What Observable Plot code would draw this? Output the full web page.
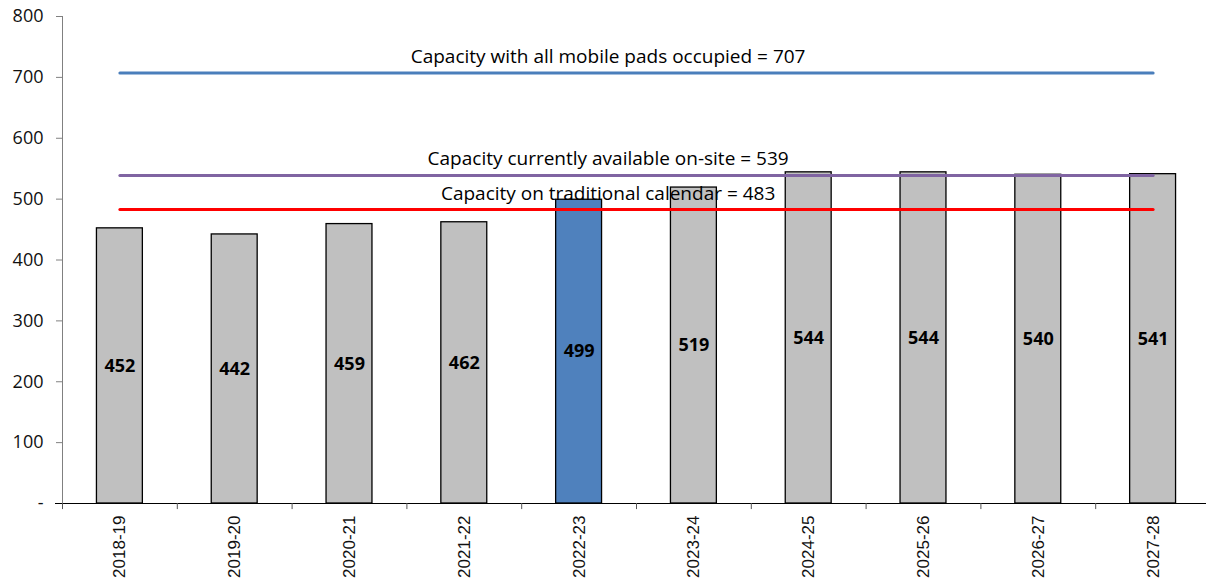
<!DOCTYPE html>
<html>
<head>
<meta charset="utf-8">
<script src="https://cdn.jsdelivr.net/npm/d3@7"></script>
<script src="https://cdn.jsdelivr.net/npm/@observablehq/plot@0.6"></script>
<style>
  html, body { margin: 0; padding: 0; background: #fff; }
  #chart { width: 1206px; height: 584px; overflow: hidden; }
</style>
</head>
<body>
<div id="chart"></div>
<script>
const years = ["2018-19","2019-20","2020-21","2021-22","2022-23","2023-24","2024-25","2025-26","2026-27","2027-28"];
const enrollment = [452, 442, 459, 462, 499, 519, 544, 544, 540, 541];
const highlightYear = "2022-23";
const yTicks = [0, 100, 200, 300, 400, 500, 600, 700, 800];

const capacityLabels = [
  "Capacity with all mobile pads occupied = 707",
  "Capacity currently available on-site = 539",
  "Capacity on traditional calendar = 483"
];
const capacityValues = [707, 539, 483];
const capacityColors = ["#4a7ebb", "#8064a2", "#ff0000"];

const bars = years.map((y, i) => ({year: y, value: enrollment[i], highlight: y === highlightYear}));
const caps = capacityValues.map((v, i) => ({label: capacityLabels[i], value: v, color: capacityColors[i]}));
const capLines = caps.flatMap(c => [{...c, year: years[0]}, {...c, year: years[years.length - 1]}]);

const W = 1206, H = 584, ML = 62, MR = -4;
const step = (W - ML - MR) / years.length;

const plot = Plot.plot({
  width: W,
  height: H,
  marginLeft: ML,
  marginRight: MR,
  marginTop: 16,
  marginBottom: 81,
  style: {fontFamily: "'Open Sans', sans-serif", background: "#fff", overflow: "hidden"},
  x: {domain: years, paddingInner: 0.6, paddingOuter: 0.3, round: false, label: null},
  y: {domain: [0, 800], label: null},
  marks: [
    Plot.barY(bars, {x: "year", y: "value", fill: d => d.highlight ? "#4f81bd" : "#c0c0c0", stroke: "#000", strokeWidth: 1.3}),
    Plot.axisY({ticks: yTicks, tickSize: 6, tickFormat: () => "", stroke: "#808080", label: null}),
    Plot.text(yTicks, {y: d => d, frameAnchor: "left", textAnchor: "end", dx: -19, text: d => d === 0 ? "-" : String(d), fontSize: 18, fill: "#111"}),
    Plot.ruleX([years[0]], {x: d => d, dx: -step / 2, y1: 0, y2: 800, stroke: "#808080", strokeWidth: 1}),
    Plot.ruleY([0], {stroke: "#000", strokeWidth: 1.2, insetLeft: -7}),
    Plot.ruleX(years, {x: d => d, dx: -step / 2, y1: 0, y2: -10, stroke: "#555"}),
    Plot.axisX({tickSize: 0, tickPadding: 12, tickRotate: -90, fontSize: 17, fontFamily: "'Liberation Sans', Arial, sans-serif", color: "#111"}),
    Plot.text(bars, {x: "year", y: d => d.value / 2, text: d => String(d.value), fontWeight: "bold", fontSize: 18, fill: "#000"}),
    Plot.line(capLines, {x: "year", y: "value", z: "label", stroke: "color", strokeWidth: 3}),
    Plot.text(caps, {x: () => years[4], dx: 29, y: "value", dy: -16, text: "label", fontSize: 19, fill: "#000"})
  ]
});
document.getElementById("chart").append(plot);
</script>
</body>
</html>
